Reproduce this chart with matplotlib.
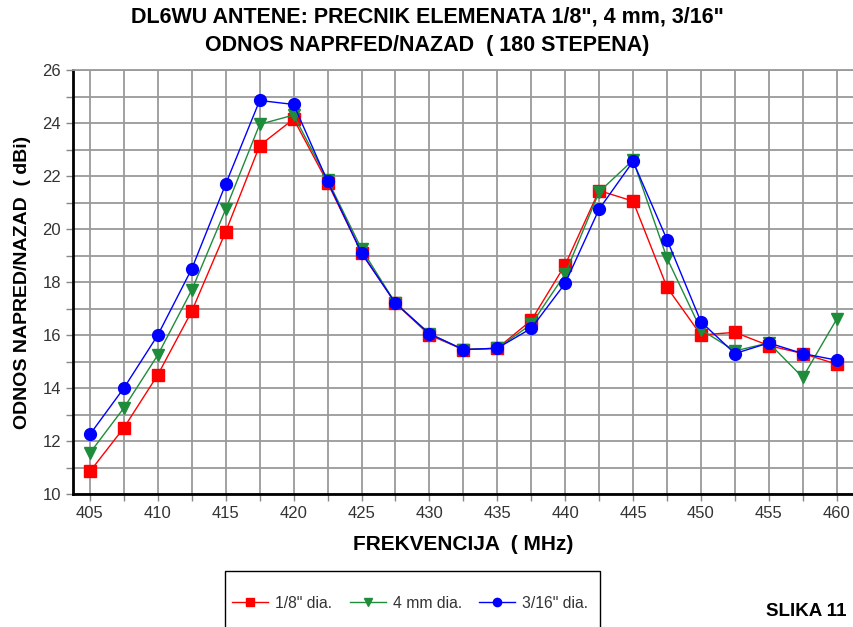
import numpy as np
import matplotlib
matplotlib.use("Agg")
from matplotlib import pyplot as plt
from matplotlib.ticker import MultipleLocator
from matplotlib.patches import Rectangle

plt.rcParams['font.family'] = ['Liberation Sans', 'DejaVu Sans']

freq = [405, 407.5, 410, 412.5, 415, 417.5, 420, 422.5, 425, 427.5, 430, 432.5,
        435, 437.5, 440, 442.5, 445, 447.5, 450, 452.5, 455, 457.5, 460]

# 1/8" dia.
red = [10.85, 12.5, 14.5, 16.9, 19.9, 23.15, 24.15, 21.75, 19.1, 17.2, 16.0, 15.45,
       15.5, 16.55, 18.65, 21.45, 21.05, 17.8, 16.0, 16.1, 15.6, 15.3, 14.9]
# 4 mm dia.
green = [11.55, 13.25, 15.25, 17.7, 20.75, 23.95, 24.3, 21.85, 19.25, 17.2, 16.05, 15.45,
         15.5, 16.4, 18.3, 21.4, 22.6, 18.9, 16.2, 15.4, 15.7, 14.4, 16.6]
# 3/16" dia.
blue = [12.25, 14.0, 16.0, 18.5, 21.7, 24.85, 24.7, 21.8, 19.1, 17.2, 16.05, 15.45,
        15.5, 16.25, 17.95, 20.75, 22.55, 19.6, 16.5, 15.3, 15.7, 15.3, 15.05]

labels = ['1/8" dia.', '4 mm dia.', '3/16" dia.']

fig = plt.figure(figsize=(8.54, 6.27), dpi=100)
ax = fig.add_axes([73/854, 1 - 494/627, (853-73)/854, (494-70)/627])

ax.plot(freq, red, color='#ff0000', lw=1.0, marker='s', ms=8.5, label=labels[0], zorder=3)
ax.plot(freq, green, color='#1e8c3a', lw=1.0, marker='v', ms=8.5, label=labels[1], zorder=4)
ax.plot(freq, blue, color='#0000ff', lw=1.0, marker='o', ms=8.5, label=labels[2], zorder=5)

ax.set_xlim(403.75, 461.2)
ax.set_ylim(10, 26)
ax.xaxis.set_major_locator(MultipleLocator(5))
ax.xaxis.set_minor_locator(MultipleLocator(2.5))
ax.yaxis.set_major_locator(MultipleLocator(2))
ax.yaxis.set_minor_locator(MultipleLocator(1))
ax.grid(True, which='both', color='#9a9a9a', lw=1.3)
ax.set_axisbelow(True)

ax.tick_params(which='both', direction='out', length=5, color='#888888', width=1)
ax.tick_params(axis='both', labelsize=12, labelcolor='#333333')
ax.tick_params(axis='x', pad=4)

for s in ['left', 'bottom']:
    ax.spines[s].set_color('black')
    ax.spines[s].set_linewidth(2)
ax.spines['top'].set_color('#9a9a9a')
ax.spines['top'].set_linewidth(1.3)
ax.spines['right'].set_visible(False)

ax.set_xlabel('FREKVENCIJA  ( MHz)', fontsize=15, fontweight='bold', labelpad=10)
ax.set_ylabel('ODNOS NAPRED/NAZAD  ( dBi)', fontsize=14, fontweight='bold', labelpad=8)

fig.text(0.5, 1 - 17/627, 'DL6WU ANTENE: PRECNIK ELEMENATA 1/8", 4 mm, 3/16"',
         ha='center', va='center', fontsize=15.5, fontweight='bold')
fig.text(0.5, 1 - 45/627, 'ODNOS NAPRFED/NAZAD  ( 180 STEPENA)',
         ha='center', va='center', fontsize=15.5, fontweight='bold')

# legend box, cut off by the bottom edge like in the original
fig.patches.append(Rectangle((225/854, -0.05), 375/854, 0.05 + 1 - 571/627,
                             transform=fig.transFigure, fill=False,
                             edgecolor='black', lw=1.0))
leg = fig.legend(loc='center left', bbox_to_anchor=(218/854, 1 - 603/627), ncol=3,
                 fontsize=11.3, frameon=False, columnspacing=1.1, handlelength=2.3,
                 handletextpad=0.45, markerscale=0.7)
for t in leg.get_texts():
    t.set_color('#333333')

fig.text(806/854, 1 - 612/627, 'SLIKA 11', ha='center', va='center',
         fontsize=13.5, fontweight='bold')

fig.savefig('out.png', dpi=100)
